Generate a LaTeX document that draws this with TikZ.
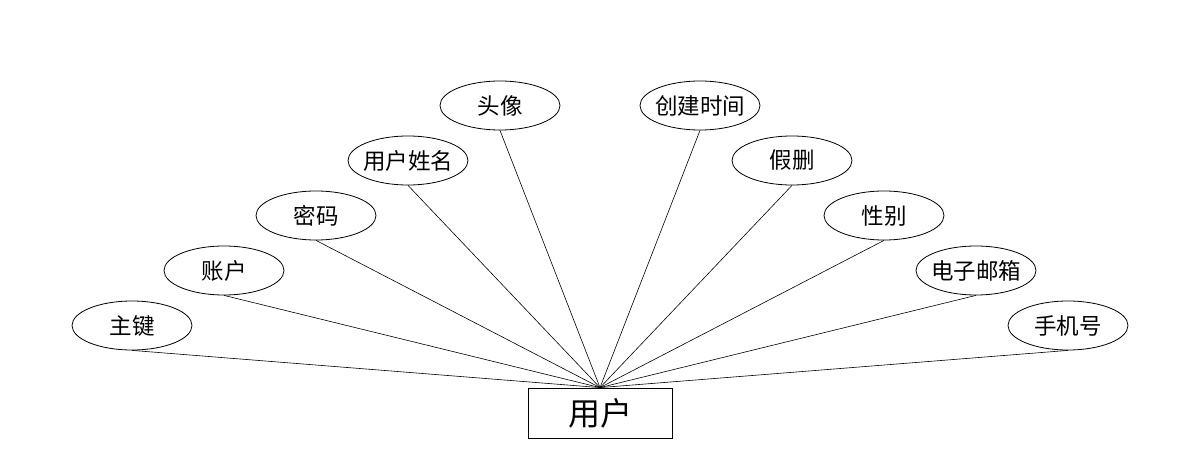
\documentclass[tikz,border=0pt]{standalone}
\usepackage{fontspec}
\setmainfont{Noto Sans CJK SC}
\usetikzlibrary{shapes.geometric}
\begin{document}
\begin{tikzpicture}[x=1pt,y=-1pt,
  attr/.style={draw, ellipse, line width=0.8pt, minimum width=120pt, minimum height=49pt, inner sep=0pt, font=\fontsize{22.5}{22.5}\selectfont,
    execute at begin node={\hbox to 0pt\bgroup\hss}, execute at end node={\hss\egroup}},
  entity/.style={draw, rectangle, line width=0.8pt, minimum width=144pt, minimum height=50pt, inner sep=0pt, font=\fontsize{32}{32}\selectfont},
  link/.style={line width=0.6pt}]
\useasboundingbox[fill=white] (0,0) rectangle (1200,468);
\node[entity] (u) at (600,413) {用户};
\node[attr] (a1) at (132,325.5) {主键};
\node[attr] (a2) at (224,270.5) {账户};
\node[attr] (a3) at (316,215.5) {密码};
\node[attr] (a4) at (408,160.5) {用户姓名};
\node[attr] (a5) at (500,105.5) {头像};
\node[attr] (a6) at (700,105.5) {创建时间};
\node[attr] (a7) at (792,160.5) {假删};
\node[attr] (a8) at (884,215.5) {性别};
\node[attr] (a9) at (976,270.5) {电子邮箱};
\node[attr] (a10) at (1068,325.5) {手机号};
\foreach \i in {1,...,10} \draw[link] (a\i.south) -- (u.north);
\end{tikzpicture}
\end{document}
